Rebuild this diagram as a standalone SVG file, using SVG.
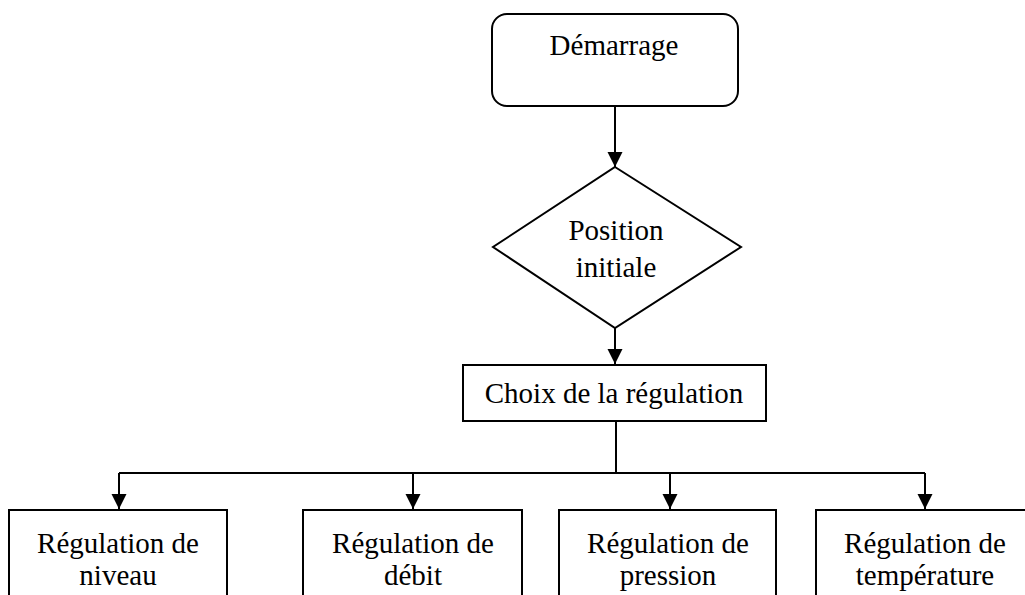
<svg xmlns="http://www.w3.org/2000/svg" width="1025" height="595" viewBox="0 0 1025 595">
  <style>
    .shape { fill: #ffffff; stroke: #000000; stroke-width: 2; }
    .label { font-family: "Liberation Serif", "Times New Roman", serif; font-size: 29px; fill: #000000; text-anchor: middle; }
    .wire { fill: none; stroke: #000000; stroke-width: 2; }
  </style>
  <defs>
    <marker id="arrow" markerUnits="userSpaceOnUse" markerWidth="16" markerHeight="16" refX="15" refY="7.5" orient="auto">
      <path d="M0,0 L15,7.5 L0,15 Z" fill="#000000"/>
    </marker>
  </defs>

  <rect width="1025" height="595" fill="#ffffff"/>

  <!-- connectors -->
  <g id="connectors">
    <path class="wire" d="M615,106 V167" marker-end="url(#arrow)"/>
    <path class="wire" d="M615,328 V364" marker-end="url(#arrow)"/>
    <path class="wire" d="M616,421 V473"/>
    <path class="wire" d="M119,473 H925"/>
    <path class="wire" d="M119,473 V509" marker-end="url(#arrow)"/>
    <path class="wire" d="M413,473 V509" marker-end="url(#arrow)"/>
    <path class="wire" d="M670,473 V509" marker-end="url(#arrow)"/>
    <path class="wire" d="M925,473 V509" marker-end="url(#arrow)"/>
  </g>

  <!-- start -->
  <g id="start">
    <rect class="shape" x="492" y="14" width="246" height="92" rx="15" ry="15"/>
    <text class="label" x="614" y="55">Démarrage</text>
  </g>

  <!-- initial position decision -->
  <g id="initial-position">
    <polygon class="shape" points="615,167 741,247 615,328 493,247"/>
    <text class="label" x="616" y="240">Position</text>
    <text class="label" x="616" y="277">initiale</text>
  </g>

  <!-- regulation choice -->
  <g id="choice">
    <rect class="shape" x="463" y="365" width="303" height="56"/>
    <text class="label" x="614" y="403">Choix de la régulation</text>
  </g>

  <!-- regulation modes -->
  <g id="level">
    <rect class="shape" x="9" y="510" width="218" height="100"/>
    <text class="label" x="118" y="553">Régulation de</text>
    <text class="label" x="118" y="585">niveau</text>
  </g>
  <g id="flow">
    <rect class="shape" x="303" y="510" width="219" height="100"/>
    <text class="label" x="413" y="553">Régulation de</text>
    <text class="label" x="413" y="585">débit</text>
  </g>
  <g id="pressure">
    <rect class="shape" x="559" y="510" width="217" height="100"/>
    <text class="label" x="668" y="553">Régulation de</text>
    <text class="label" x="668" y="585">pression</text>
  </g>
  <g id="temperature">
    <rect class="shape" x="816" y="510" width="218" height="100"/>
    <text class="label" x="925" y="553">Régulation de</text>
    <text class="label" x="925" y="585">température</text>
  </g>
</svg>
